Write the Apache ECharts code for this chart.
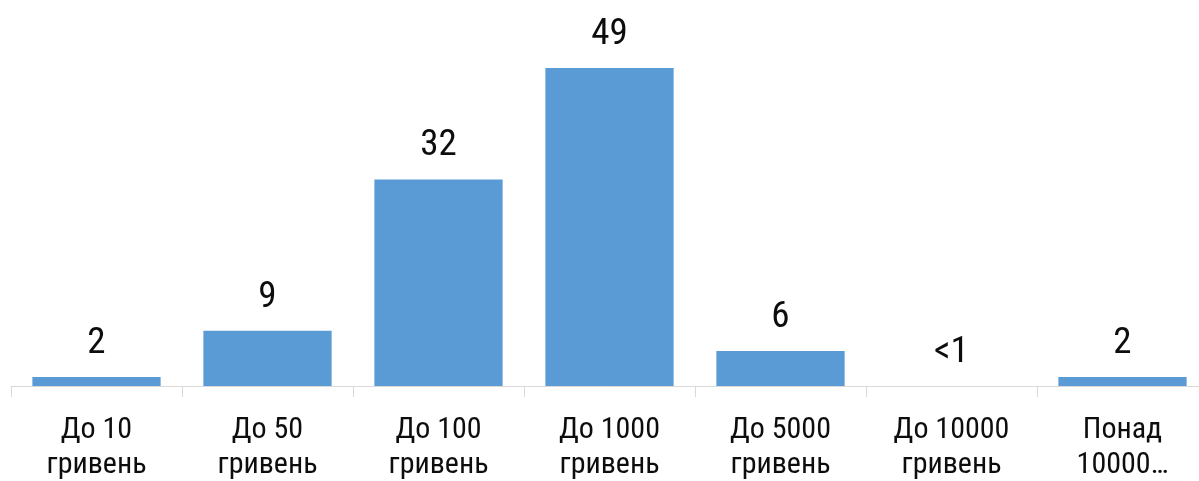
<!DOCTYPE html>
<html>
<head>
<meta charset="utf-8">
<script src="https://cdn.jsdelivr.net/npm/echarts@6/dist/echarts.min.js"></script>
<style>
html,body{margin:0;padding:0;background:#fff}
#main{width:1199px;height:481px}
</style>
</head>
<body>
<div id="main"></div>
<script>
var categories = ['До 10\nгривень', 'До 50\nгривень', 'До 100\nгривень', 'До 1000\nгривень', 'До 5000\nгривень', 'До 10000\nгривень', 'Понад\n10000…']
var values = [1.4, 8.5, 31.8, 49, 5.4, 0, 1.4]
var valueLabels = ['2', '9', '32', '49', '6', '<1', '2']

var font = "'Roboto Condensed', 'Liberation Sans Narrow', 'Arial Narrow', Roboto, sans-serif"

var chart = echarts.init(document.getElementById('main'))
var option = {
	animation: false,
	grid: {
		left: 11,
		width: 1197,
		top: 29,
		bottom: 95,
		outerBoundsMode: 'none',
		containLabel: false
	},
	xAxis: {
		type: 'category',
		data: categories,
		axisLine: {lineStyle: {color: '#d9d9d9', width: 1}},
		axisTick: {show: true, length: 11, lineStyle: {color: '#d9d9d9'}},
		axisLabel: {
			interval: 0,
			margin: 27,
			fontFamily: font,
			fontSize: 30,
			lineHeight: 35,
			color: '#0d0d0d'
		}
	},
	yAxis: {
		type: 'value',
		min: 0,
		max: 55,
		show: false,
		splitLine: {show: false}
	},
	series: [{
		type: 'bar',
		data: values,
		barWidth: '75%',
		itemStyle: {color: '#5b9bd5'},
		label: {
			show: true,
			position: 'top',
			distance: 15,
			fontFamily: font,
			fontSize: 37,
			color: '#0d0d0d',
			formatter: function (p) {
				return valueLabels[p.dataIndex]
			}
		}
	}]
}
chart.setOption(option)
</script>
</body>
</html>
